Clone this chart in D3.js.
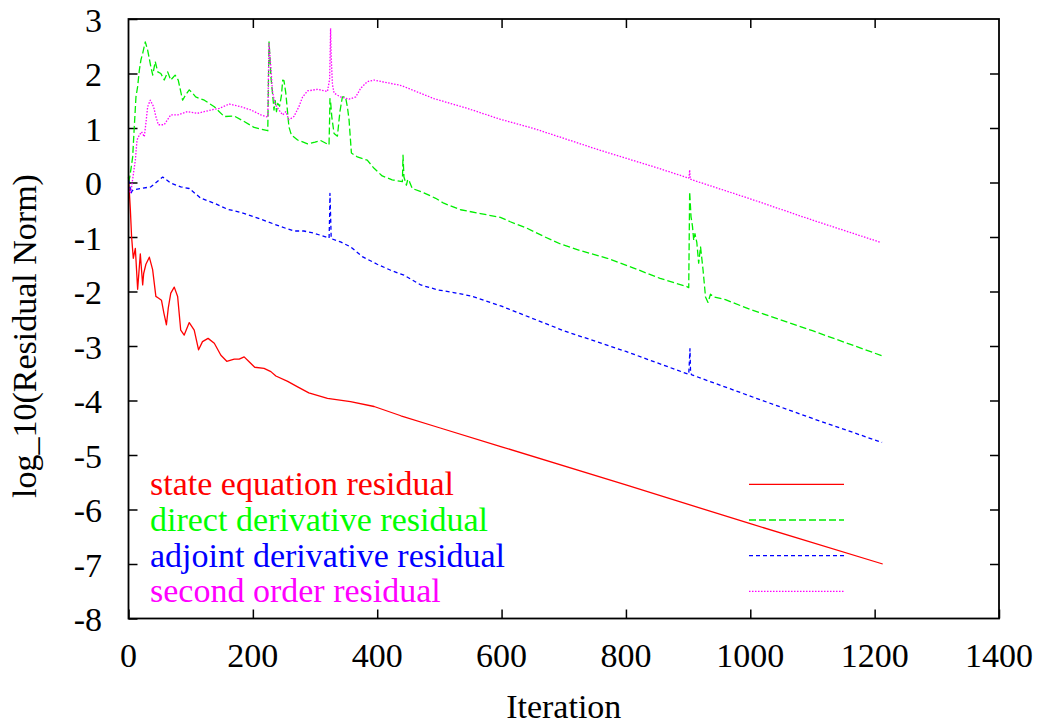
<!DOCTYPE html>
<html>
<head>
<meta charset="utf-8">
<script src="https://cdn.jsdelivr.net/npm/d3@7"></script>
<style>
  html, body { margin: 0; padding: 0; background: #fff; }
  svg { display: block; }
  svg text { font-family: Liberation Serif, DejaVu Serif, Times, serif !important; }
</style>
</head>
<body>
<svg id="chart" width="1037" height="725"></svg>
<script>
// ---------- data ----------
const xTicks = [0, 200, 400, 600, 800, 1000, 1200, 1400];
const yTicks = [3, 2, 1, 0, -1, -2, -3, -4, -5, -6, -7, -8];
const seriesNames = ["state equation residual", "direct derivative residual", "adjoint derivative residual", "second order residual"];

const stateResidual = [[0,0.1],[3,-0.5],[5,-1.0],[7.7,-1.39],[11,-1.21],[14.7,-1.96],[19,-1.31],[22.8,-1.88],[24.4,-1.67],[28,-1.5],[33.5,-1.37],[38.8,-1.6],[44,-2.09],[48,-2.12],[53,-2.16],[57,-2.4],[61,-2.61],[64,-2.3],[68,-2.03],[73.6,-1.92],[79,-2.09],[84,-2.71],[89.6,-2.80],[97.7,-2.57],[105.7,-2.71],[112.7,-3.07],[119,-2.92],[128,-2.86],[138,-2.95],[148.6,-3.17],[158,-3.28],[170,-3.24],[178,-3.24],[186,-3.2],[194,-3.29],[203,-3.39],[218,-3.41],[229,-3.47],[237,-3.55],[256,-3.65],[272,-3.75],[290,-3.86],[320,-3.96],[357,-4.02],[395,-4.11],[438,-4.28],[500,-4.5],[600,-4.85],[800,-5.55],[1000,-6.26],[1213,-7.0]];

const directResidual = [[0,0],[2,0.1],[4,0.25],[6.7,0.47],[9.3,1.02],[12,1.57],[14.7,1.76],[17.4,2.06],[20,2.25],[22.8,2.37],[27,2.58],[30.8,2.43],[36,2.12],[39,1.97],[43,2.22],[47,2.03],[52,2.0],[57.5,1.88],[63,2.03],[68,1.88],[75,1.97],[80,1.88],[87,1.51],[92,1.61],[97.7,1.70],[103,1.64],[108,1.57],[122,1.51],[138,1.39],[154,1.21],[170,1.22],[186,1.12],[202,1.01],[224,0.95],[225,1.8],[226,2.58],[227.5,2.3],[229,1.94],[231.6,1.64],[234,1.33],[236,1.5],[238,1.3],[240,1.45],[243,1.4],[246,1.6],[248,1.88],[250,1.87],[253,1.64],[258,1.02],[262,0.87],[272,0.78],[288,0.71],[300,0.74],[309,0.77],[322.5,0.69],[323.5,1.2],[324,1.54],[325,1.48],[327,1.2],[330.6,0.9],[336,0.85],[340,1.3],[344,1.57],[349,1.57],[352,1.39],[354.7,1.15],[358.5,0.54],[368,0.47],[384,0.41],[395,0.26],[408,0.12],[424,0.05],[440.5,0.015],[441.5,0.50],[443,0.1],[447,-0.05],[449,0.05],[451,0.05],[453,-0.02],[456.5,-0.11],[475,-0.19],[494,-0.29],[507,-0.38],[534,-0.50],[566,-0.57],[598,-0.64],[614,-0.72],[641,-0.84],[668,-0.99],[695,-1.13],[727,-1.25],[770,-1.39],[812.5,-1.57],[855,-1.76],[898,-1.91],[901,-1.93],[902.5,-0.17],[904.7,-0.63],[907,-0.8],[909,-1.06],[911,-0.94],[914,-1.1],[917,-1.48],[920,-1.18],[924,-1.6],[928,-2.1],[932,-2.2],[936,-2.05],[942,-2.1],[960,-2.15],[1000,-2.33],[1100,-2.72],[1212,-3.18]];

const adjointResidual = [[0,0.05],[2,-0.05],[4,-0.2],[6,-0.15],[9,-0.13],[20,-0.11],[36,-0.08],[55,0.10],[68,-0.01],[84,-0.08],[97.7,-0.11],[116.5,-0.29],[138,-0.38],[159,-0.49],[181,-0.55],[202,-0.63],[224,-0.72],[245,-0.81],[266,-0.89],[282,-0.89],[298.5,-0.93],[322.6,-1.02],[323.5,-0.6],[324,-0.2],[325,-0.6],[326,-1.03],[341,-1.09],[357,-1.18],[376,-1.36],[400,-1.50],[421.7,-1.61],[435,-1.67],[443,-1.70],[470,-1.88],[497,-1.97],[523,-2.02],[550,-2.08],[566,-2.14],[600,-2.27],[700,-2.72],[800,-3.1],[901,-3.52],[902,-3.3],[903,-3.05],[904,-3.5],[906,-3.53],[1000,-3.92],[1100,-4.33],[1212,-4.77]];

const secondOrderResidual = [[0,-0.1],[3,-0.2],[5,-0.08],[8,0.17],[11,0.41],[13.7,0.78],[17.4,0.87],[21,0.93],[25.4,0.84],[28,1.09],[30.8,1.39],[35,1.51],[40.4,1.39],[44,1.21],[48,1.06],[57.5,1.06],[68,1.24],[79,1.24],[95,1.30],[111,1.27],[132.5,1.33],[146,1.36],[162,1.44],[181,1.39],[197,1.33],[213,1.24],[224,1.20],[225,1.9],[226,2.55],[229,2.1],[231.6,1.67],[236,1.43],[242,1.33],[248,1.24],[253,1.3],[258,1.15],[266,1.21],[274,1.39],[280,1.57],[288,1.68],[304,1.71],[320,1.67],[323.5,1.9],[325,2.83],[326,2.3],[328,1.8],[330.6,1.64],[341,1.57],[354.7,1.53],[365.5,1.57],[373.5,1.73],[384,1.85],[395,1.88],[416,1.83],[435,1.79],[443,1.76],[491,1.54],[545,1.36],[598,1.16],[652,0.99],[705.5,0.79],[756,0.60],[850,0.27],[901,0.08],[902,0.15],[902.5,0.23],[903.5,0.06],[1000,-0.3],[1100,-0.69],[1210,-1.10]];

// ---------- layout ----------
const plot = { left: 128.5, right: 999, top: 19, bottom: 618.5 };
const FS = 34;
const FONT = "Liberation Serif, DejaVu Serif, Times, serif";

const svg = d3.select("#chart");
const x = d3.scaleLinear().domain([0, 1400]).range([plot.left, plot.right]);
const y = d3.scaleLinear().domain([-8, 3]).range([plot.bottom, plot.top]);

const styles = [
  { color: "#ff0000", text: "#ff0000", dash: null },
  { color: "#00ee00", text: "#00ff00", dash: "7,3" },
  { color: "#0000ff", text: "#0000ff", dash: "4,3" },
  { color: "#ff00ff", text: "#ff00ff", dash: "1.5,1.5" }
];
const allSeries = [stateResidual, directResidual, adjointResidual, secondOrderResidual];

// axes with inward ticks on all four sides
const tickLen = 9;
const axB = svg.append("g").attr("transform", `translate(0,${plot.bottom})`)
  .call(d3.axisBottom(x).tickValues(xTicks).tickSize(-tickLen).tickFormat(""));
const axT = svg.append("g").attr("transform", `translate(0,${plot.top})`)
  .call(d3.axisTop(x).tickValues(xTicks.slice(1, -1)).tickSize(-tickLen).tickFormat(""));
const axL = svg.append("g").attr("transform", `translate(${plot.left},0)`)
  .call(d3.axisLeft(y).tickValues(yTicks).tickSize(-tickLen).tickFormat(""));
const axR = svg.append("g").attr("transform", `translate(${plot.right},0)`)
  .call(d3.axisRight(y).tickValues(yTicks.slice(1, -1)).tickSize(-tickLen).tickFormat(""));
[axB, axT, axL, axR].forEach(g => {
  g.select(".domain").remove();
  g.selectAll(".tick line").attr("stroke", "#000").attr("stroke-width", 1.5);
  g.attr("font-family", null);
});

function txt(sel) {
  return sel.style("font-family", FONT).attr("font-size", FS);
}

// tick labels
txt(svg.append("g").selectAll("text").data(xTicks).join("text"))
  .attr("x", d => x(d)).attr("y", 667)
  .attr("text-anchor", "middle").attr("fill", "#000")
  .text(d => d);
txt(svg.append("g").selectAll("text").data(yTicks).join("text"))
  .attr("x", 102).attr("y", d => y(d) + 12.5)
  .attr("text-anchor", "end").attr("fill", "#000")
  .text(d => d);

// series
const line = d3.line().x(d => x(d[0])).y(d => y(d[1]));
allSeries.forEach((s, i) => {
  svg.append("path").datum(s)
    .attr("d", line)
    .attr("fill", "none")
    .attr("stroke", styles[i].color)
    .attr("stroke-width", 1.3)
    .attr("stroke-dasharray", styles[i].dash)
    .attr("stroke-linejoin", "round");
});

// legend
const legendY = [484.3, 520, 555.7, 591.3];
seriesNames.forEach((name, i) => {
  txt(svg.append("text"))
    .attr("x", 150).attr("y", legendY[i] + 10.8)
    .attr("fill", styles[i].text)
    .text(name);
  svg.append("line")
    .attr("x1", 749).attr("x2", 844)
    .attr("y1", legendY[i]).attr("y2", legendY[i])
    .attr("stroke", styles[i].color).attr("stroke-width", 1.3)
    .attr("stroke-dasharray", styles[i].dash);
});

// frame
svg.append("rect")
  .attr("x", plot.left).attr("y", plot.top)
  .attr("width", plot.right - plot.left).attr("height", plot.bottom - plot.top)
  .attr("fill", "none").attr("stroke", "#000").attr("stroke-width", 1.8);

// axis titles
txt(svg.append("text"))
  .attr("x", (plot.left + plot.right) / 2).attr("y", 718)
  .attr("text-anchor", "middle").attr("fill", "#000")
  .text("Iteration");
txt(svg.append("text"))
  .attr("transform", `translate(36,336) rotate(-90)`)
  .attr("text-anchor", "middle").attr("fill", "#000")
  .text("log_10(Residual Norm)");
</script>
</body>
</html>
